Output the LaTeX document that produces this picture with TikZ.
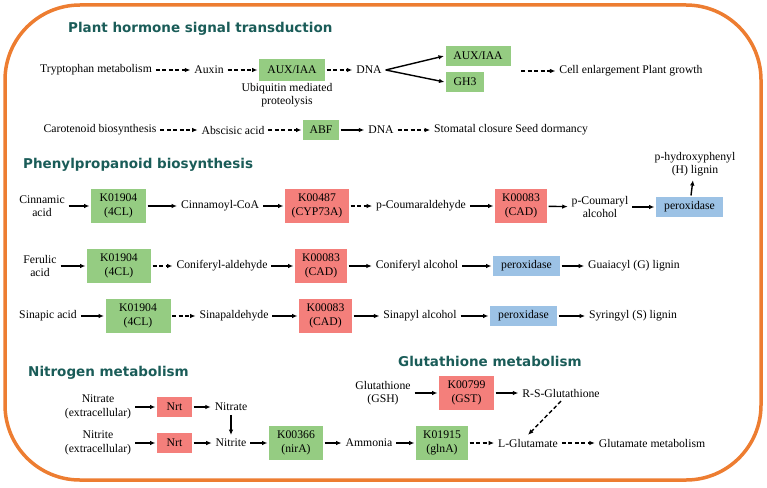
\documentclass[tikz,border=0pt]{standalone}
\usepackage{fontspec}
\setmainfont{Liberation Serif}
\newfontfamily\titlefont{DejaVu Sans}
\usetikzlibrary{arrows.meta}
\definecolor{frame}{HTML}{ED7D31}
\definecolor{ttl}{HTML}{1A5C58}
\definecolor{gfill}{HTML}{95CC82}
\definecolor{rfill}{HTML}{F47F7B}
\definecolor{bfill}{HTML}{9CC2E5}
\tikzset{
  txt/.style={inner sep=0pt, outer sep=4pt, align=center, font=\fontsize{11.7}{13.5}\selectfont},
  box/.style={inner sep=0pt, outer sep=1.5pt, align=center, font=\fontsize{11.7}{13.5}\selectfont},
  gbox/.style={box, fill=gfill},
  rbox/.style={box, fill=rfill},
  bbox/.style={box, fill=bfill},
  ttlstyle/.style={anchor=west, inner sep=0pt, text=ttl, font=\titlefont\bfseries\fontsize{13.5}{15}\selectfont},
  arr/.style={line width=1.4pt, -{Latex[length=5.5pt,width=4.5pt]}},
  darr/.style={arr, dash pattern=on 4pt off 2.5pt},
}
\begin{document}
\begin{tikzpicture}[x=1pt,y=-1pt]
\useasboundingbox (0,0) rectangle (767,487);
\draw[frame, line width=3.5pt, rounded corners=75pt] (5,5) rectangle (761,480);

% titles
\node[ttlstyle] (t1) at (68,29) {Plant hormone signal transduction};
\node[ttlstyle] (t2) at (23,165) {Phenylpropanoid biosynthesis};
\node[ttlstyle] (t3) at (28,373) {Nitrogen metabolism};
\node[ttlstyle] (t4) at (398,361) {Glutathione metabolism};

% row 1
\node[txt] (trp) at (96,70) {Tryptophan metabolism};
\node[txt] (aux) at (209,70) {Auxin};
\node[gbox, minimum width=66pt, minimum height=22pt] (auxiaa) at (292,70) {AUX/IAA};
\node[txt] (dna1) at (369,70) {DNA};
\node[gbox, minimum width=65pt, minimum height=19pt] (auxiaa2) at (478,56) {AUX/IAA};
\node[gbox, minimum width=38pt, minimum height=20pt] (gh3) at (465,82) {GH3};
\node[txt] (cell) at (631,71) {Cell enlargement Plant growth};
\node[txt] (ubi) at (287,95) {Ubiquitin mediated\\proteolysis};
\coordinate (c1) at (521,71);
\draw[darr] (trp) -- (aux);
\draw[darr] (aux) -- (auxiaa);
\draw[darr] (auxiaa) -- (dna1);
\draw[arr] (dna1.east) -- (auxiaa2.west);
\draw[arr] (dna1.east) -- (gh3.west);
\draw[darr] (c1) -- (cell);

% row 2
\node[txt] (car) at (100,130) {Carotenoid biosynthesis};
\node[txt] (aba) at (233,130) {Abscisic acid};
\node[gbox, minimum width=36pt, minimum height=20pt] (abf) at (321,130) {ABF};
\node[txt] (dna2) at (381,130) {DNA};
\node[txt] (sto) at (511,130) {Stomatal closure Seed dormancy};
\draw[darr] (car) -- (aba);
\draw[darr] (aba) -- (abf);
\draw[arr] (abf) -- (dna2);
\draw[darr] (dna2) -- (sto);

% row 3
\node[txt] (cin) at (42,206) {Cinnamic\\acid};
\node[gbox, minimum width=55pt, minimum height=34pt] (k1) at (118.5,206) {K01904\\(4CL)};
\node[txt] (cinco) at (220,206) {Cinnamoyl-CoA};
\node[rbox, minimum width=64pt, minimum height=34pt] (k487) at (317,206) {K00487\\(CYP73A)};
\node[txt] (pcald) at (421,206) {p-Coumaraldehyde};
\node[rbox, minimum width=52pt, minimum height=34pt] (k83a) at (521,206) {K00083\\(CAD)};
\node[txt] (pcal) at (600,207) {p-Coumaryl\\alcohol};
\node[bbox, minimum width=67pt, minimum height=20pt] (per1) at (689.5,207) {peroxidase};
\node[txt] (hlig) at (695,164) {p-hydroxyphenyl\\(H) lignin};
\draw[arr] (cin) -- (k1);
\draw[arr] (k1) -- (cinco);
\draw[arr] (cinco) -- (k487);
\draw[darr] (k487) -- (pcald);
\draw[arr] (pcald) -- (k83a);
\draw[arr] (k83a) -- (pcal);
\draw[arr] (pcal) -- (per1);
\draw[arr] (per1) -- (hlig);

% row 4
\node[txt] (fer) at (40,266) {Ferulic\\acid};
\node[gbox, minimum width=64pt, minimum height=34pt] (k2) at (119,266) {K01904\\(4CL)};
\node[txt] (conald) at (222,266) {Coniferyl-aldehyde};
\node[rbox, minimum width=52pt, minimum height=34pt] (k83b) at (321,266) {K00083\\(CAD)};
\node[txt] (conal) at (417,266) {Coniferyl alcohol};
\node[bbox, minimum width=67pt, minimum height=20pt] (per2) at (526.5,266) {peroxidase};
\node[txt] (glig) at (634,266) {Guaiacyl (G) lignin};
\draw[arr] (fer) -- (k2);
\draw[darr] (k2) -- (conald);
\draw[arr] (conald) -- (k83b);
\draw[arr] (k83b) -- (conal);
\draw[arr] (conal) -- (per2);
\draw[arr] (per2) -- (glig);

% row 5
\node[txt] (sin) at (48,316) {Sinapic acid};
\node[gbox, minimum width=65pt, minimum height=34pt] (k3) at (138,316) {K01904\\(4CL)};
\node[txt] (sinald) at (234,316) {Sinapaldehyde};
\node[rbox, minimum width=53pt, minimum height=34pt] (k83c) at (325.5,316) {K00083\\(CAD)};
\node[txt] (sinal) at (420,316) {Sinapyl alcohol};
\node[bbox, minimum width=67pt, minimum height=20pt] (per3) at (523.5,316) {peroxidase};
\node[txt] (slig) at (633,316) {Syringyl (S) lignin};
\draw[arr] (sin) -- (k3);
\draw[darr] (k3) -- (sinald);
\draw[arr] (sinald) -- (k83c);
\draw[arr] (k83c) -- (sinal);
\draw[arr] (sinal) -- (per3);
\draw[arr] (per3) -- (slig);

% nitrogen
\node[txt] (nate) at (98,407) {Nitrate\\(extracellular)};
\node[rbox, minimum width=35pt, minimum height=20pt] (nrt1) at (174.5,407) {Nrt};
\node[txt] (nat) at (231,407) {Nitrate};
\node[txt] (nite) at (98,443) {Nitrite\\(extracellular)};
\node[rbox, minimum width=35pt, minimum height=20pt] (nrt2) at (174.5,443) {Nrt};
\node[txt] (nit) at (231,443) {Nitrite};
\node[gbox, minimum width=54pt, minimum height=34pt] (k366) at (296,443) {K00366\\(nirA)};
\node[txt] (amm) at (369,443) {Ammonia};
\node[gbox, minimum width=52pt, minimum height=34pt] (k1915) at (442,443) {K01915\\(glnA)};
\node[txt] (lglu) at (528,443) {L-Glutamate};
\node[txt] (gmet) at (652,443) {Glutamate metabolism};
\draw[arr] (nate) -- (nrt1);
\draw[arr] (nrt1) -- (nat);
\draw[arr] (nat) -- (nit);
\draw[arr] (nite) -- (nrt2);
\draw[arr] (nrt2) -- (nit);
\draw[arr] (nit) -- (k366);
\draw[arr] (k366) -- (amm);
\draw[arr] (amm) -- (k1915);
\draw[darr] (k1915) -- (lglu);
\draw[darr] (lglu) -- (gmet);

% glutathione
\node[txt] (gsh) at (383,393) {Glutathione\\(GSH)};
\node[rbox, minimum width=55pt, minimum height=34pt] (k799) at (466.5,393) {K00799\\(GST)};
\node[txt] (rsg) at (561,393) {R-S-Glutathione};
\draw[arr] (gsh) -- (k799);
\draw[arr] (k799) -- (rsg);
\draw[darr] (rsg.south) -- (lglu.north);
\end{tikzpicture}
\end{document}
